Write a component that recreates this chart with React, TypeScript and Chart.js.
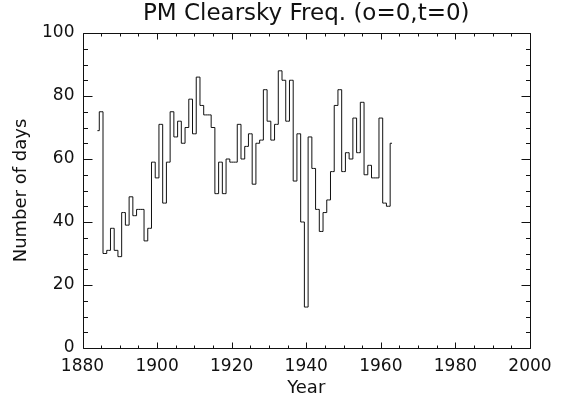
import { useEffect, useRef } from 'react';
import { Chart, registerables } from 'chart.js';

Chart.register(...registerables);

const years = [
  1884, 1885, 1886, 1887, 1888, 1889, 1890, 1891, 1892, 1893,
  1894, 1895, 1896, 1897, 1898, 1899, 1900, 1901, 1902, 1903,
  1904, 1905, 1906, 1907, 1908, 1909, 1910, 1911, 1912, 1913,
  1914, 1915, 1916, 1917, 1918, 1919, 1920, 1921, 1922, 1923,
  1924, 1925, 1926, 1927, 1928, 1929, 1930, 1931, 1932, 1933,
  1934, 1935, 1936, 1937, 1938, 1939, 1940, 1941, 1942, 1943,
  1944, 1945, 1946, 1947, 1948, 1949, 1950, 1951, 1952, 1953,
  1954, 1955, 1956, 1957, 1958, 1959, 1960, 1961, 1962, 1963,
];

const clearDays = [
  69, 75, 30, 31, 38, 31, 29, 43, 39, 48,
  42, 44, 44, 34, 38, 59, 54, 71, 46, 59,
  75, 67, 72, 65, 70, 79, 68, 86, 77, 74,
  74, 70, 49, 59, 49, 60, 59, 59, 71, 60,
  64, 68, 52, 65, 66, 82, 72, 66, 71, 88,
  85, 72, 85, 53, 68, 40, 13, 67, 57, 44,
  37, 43, 47, 56, 77, 82, 56, 62, 60, 73,
  62, 78, 55, 58, 54, 54, 73, 46, 45, 65,
];

const xTickValues = [1880, 1900, 1920, 1940, 1960, 1980, 2000];
const yTickValues = [0, 20, 40, 60, 80, 100];
const chartTitle = 'PM Clearsky Freq. (o=0,t=0)';
const xAxisTitle = 'Year';
const yAxisTitle = 'Number of days';

const FONT = "'DejaVu Sans', 'Liberation Sans', sans-serif";
const INK = '#111';

const boxPlugin = {
  id: 'idlBox',
  afterDatasetsDraw(chart: any) {
    const { ctx, chartArea: a, scales } = chart;
    const xs = scales.x;
    const ys = scales.y;
    const L = Math.round(a.left) + 0.5;
    const R = Math.round(a.right) + 0.5;
    const T = Math.round(a.top) + 0.5;
    const B = Math.round(a.bottom) + 0.5;
    ctx.save();
    ctx.strokeStyle = INK;
    ctx.lineWidth = 1;
    ctx.beginPath();
    ctx.rect(L, T, R - L, B - T);
    for (let v = xs.min; v <= xs.max; v += 5) {
      const px = Math.round(xs.getPixelForValue(v)) + 0.5;
      const len = v % 20 === 0 ? 6 : 3;
      ctx.moveTo(px, B);
      ctx.lineTo(px, B - len);
      ctx.moveTo(px, T);
      ctx.lineTo(px, T + len);
    }
    for (let v = ys.min; v <= ys.max; v += 5) {
      const py = Math.round(ys.getPixelForValue(v)) + 0.5;
      const len = v % 20 === 0 ? 9 : 4.5;
      ctx.moveTo(L, py);
      ctx.lineTo(L + len, py);
      ctx.moveTo(R, py);
      ctx.lineTo(R - len, py);
    }
    ctx.stroke();
    ctx.restore();
  },
};

export default function App() {
  const ref = useRef<HTMLCanvasElement | null>(null);

  useEffect(() => {
    document.body.style.margin = '0';
    const canvas = ref.current;
    if (!canvas) return;
    const chart = new Chart(canvas, {
      type: 'line',
      data: {
        datasets: [
          {
            data: years.map((yr, i) => ({ x: yr, y: clearDays[i] })),
            borderColor: INK,
            borderWidth: 1,
            pointRadius: 0,
            stepped: 'middle',
            fill: false,
          },
        ],
      },
      options: {
        responsive: false,
        animation: false,
        devicePixelRatio: 1,
        layout: { padding: { left: 0, right: 32, top: 0, bottom: 0 } },
        plugins: {
          legend: { display: false },
          tooltip: { enabled: false },
          title: {
            display: true,
            fullSize: false,
            text: chartTitle,
            color: INK,
            font: { family: FONT, size: 23, weight: 'normal', lineHeight: 1.2 },
            padding: { top: 0, bottom: 5.4 },
          },
        },
        scales: {
          x: {
            type: 'linear',
            min: 1880,
            max: 2000,
            afterBuildTicks: (s: any) => {
              s.ticks = xTickValues.map((v) => ({ value: v }));
            },
            afterFit: (s: any) => {
              s.height = 58;
            },
            ticks: {
              color: INK,
              font: { family: FONT, size: 17 },
              padding: 8,
              maxRotation: 0,
              autoSkip: false,
              callback: (v: any) => String(v),
            },
            grid: { display: false, drawTicks: false },
            border: { display: false },
            title: {
              display: true,
              text: xAxisTitle,
              color: INK,
              font: { family: FONT, size: 18 },
              padding: { top: 0, bottom: 7 },
            },
          },
          y: {
            type: 'linear',
            min: 0,
            max: 100,
            afterBuildTicks: (s: any) => {
              s.ticks = yTickValues.map((v) => ({ value: v }));
            },
            afterFit: (s: any) => {
              s.width = 82.5;
            },
            ticks: {
              color: INK,
              font: { family: FONT, size: 17 },
              padding: 8,
              autoSkip: false,
            },
            grid: { display: false, drawTicks: false },
            border: { display: false },
            title: {
              display: true,
              text: yAxisTitle,
              color: INK,
              font: { family: FONT, size: 18 },
              padding: { top: 11, bottom: 0 },
            },
          },
        },
      },
      plugins: [boxPlugin],
    } as any);
    return () => chart.destroy();
  }, []);

  return (
    <div style={{ width: 562, height: 406, background: '#fff' }}>
      <canvas ref={ref} width={562} height={406} style={{ display: 'block' }} />
    </div>
  );
}
